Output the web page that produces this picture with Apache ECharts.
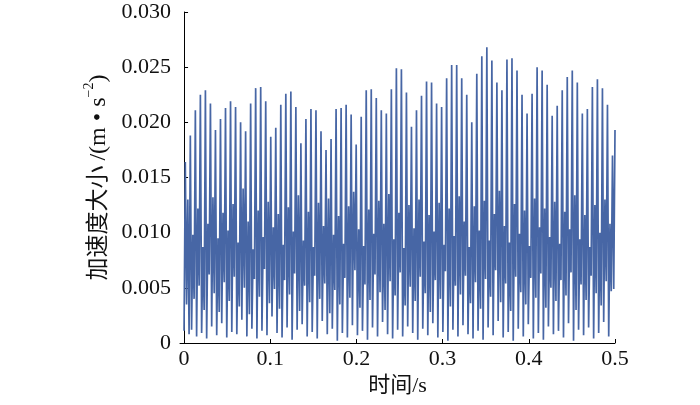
<!DOCTYPE html>
<html>
<head>
<meta charset="utf-8">
<script src="https://cdn.jsdelivr.net/npm/echarts@6/dist/echarts.min.js"></script>
<style>html,body{margin:0;padding:0;background:#fff}#c{width:700px;height:405px}</style>
</head>
<body>
<div id="c"></div>
<script>
// time axis: uniform sampling from 0 to 0.5 s
const tStart = 0;
const tEnd = 0.5;
// acceleration magnitude samples (m·s^-2), 4 samples per oscillation cycle
const accel = [
  0.0011, 0.0164, 0.0035, 0.0130,
  0.0008, 0.0188, 0.0012, 0.0098,
  0.0040, 0.0211, 0.0006, 0.0122,
  0.0052, 0.0225, 0.0009, 0.0087,
  0.0030, 0.0229, 0.0004, 0.0108,
  0.0062, 0.0217, 0.0015, 0.0132,
  0.0045, 0.0193, 0.0007, 0.0095,
  0.0028, 0.0203, 0.0018, 0.0118,
  0.0055, 0.0213, 0.0005, 0.0102,
  0.0038, 0.0219, 0.0010, 0.0126,
  0.0060, 0.0214, 0.0008, 0.0091,
  0.0033, 0.0200, 0.0021, 0.0140,
  0.0050, 0.0192, 0.0006, 0.0110,
  0.0026, 0.0217, 0.0013, 0.0085,
  0.0058, 0.0231, 0.0004, 0.0120,
  0.0042, 0.0232, 0.0011, 0.0096,
  0.0067, 0.0219, 0.0007, 0.0128,
  0.0036, 0.0187, 0.0024, 0.0105,
  0.0049, 0.0195, 0.0009, 0.0117,
  0.0031, 0.0216, 0.0005, 0.0089,
  0.0057, 0.0226, 0.0014, 0.0123,
  0.0044, 0.0228, 0.0003, 0.0101,
  0.0063, 0.0214, 0.0012, 0.0134,
  0.0029, 0.0181, 0.0017, 0.0093,
  0.0052, 0.0203, 0.0006, 0.0119,
  0.0037, 0.0212, 0.0010, 0.0087,
  0.0061, 0.0211, 0.0004, 0.0127,
  0.0040, 0.0192, 0.0020, 0.0106,
  0.0054, 0.0175, 0.0008, 0.0131,
  0.0027, 0.0185, 0.0013, 0.0098,
  0.0048, 0.0212, 0.0002, 0.0115,
  0.0035, 0.0213, 0.0009, 0.0090,
  0.0059, 0.0216, 0.0005, 0.0124,
  0.0041, 0.0207, 0.0016, 0.0137,
  0.0066, 0.0180, 0.0007, 0.0103,
  0.0032, 0.0205, 0.0011, 0.0088,
  0.0053, 0.0229, 0.0003, 0.0121,
  0.0039, 0.0230, 0.0014, 0.0099,
  0.0062, 0.0222, 0.0006, 0.0129,
  0.0046, 0.0211, 0.0019, 0.0108,
  0.0030, 0.0208, 0.0008, 0.0135,
  0.0056, 0.0230, 0.0004, 0.0094,
  0.0043, 0.0249, 0.0012, 0.0118,
  0.0064, 0.0248, 0.0006, 0.0086,
  0.0034, 0.0227, 0.0015, 0.0125,
  0.0051, 0.0196, 0.0009, 0.0104,
  0.0038, 0.0211, 0.0003, 0.0130,
  0.0060, 0.0224, 0.0013, 0.0092,
  0.0045, 0.0237, 0.0007, 0.0116,
  0.0028, 0.0236, 0.0018, 0.0101,
  0.0057, 0.0217, 0.0005, 0.0127,
  0.0040, 0.0214, 0.0010, 0.0089,
  0.0065, 0.0240, 0.0002, 0.0122,
  0.0033, 0.0252, 0.0012, 0.0097,
  0.0052, 0.0252, 0.0006, 0.0133,
  0.0044, 0.0240, 0.0016, 0.0110,
  0.0061, 0.0225, 0.0008, 0.0087,
  0.0036, 0.0200, 0.0004, 0.0124,
  0.0055, 0.0244, 0.0011, 0.0102,
  0.0031, 0.0260, 0.0003, 0.0129,
  0.0058, 0.0268, 0.0014, 0.0093,
  0.0042, 0.0256, 0.0007, 0.0117,
  0.0066, 0.0236, 0.0020, 0.0138,
  0.0037, 0.0229, 0.0005, 0.0106,
  0.0054, 0.0257, 0.0010, 0.0091,
  0.0029, 0.0258, 0.0002, 0.0126,
  0.0060, 0.0247, 0.0013, 0.0099,
  0.0046, 0.0225, 0.0006, 0.0120,
  0.0035, 0.0208, 0.0017, 0.0088,
  0.0059, 0.0226, 0.0004, 0.0131,
  0.0041, 0.0250, 0.0009, 0.0105,
  0.0063, 0.0247, 0.0003, 0.0122,
  0.0032, 0.0234, 0.0015, 0.0096,
  0.0050, 0.0206, 0.0008, 0.0128,
  0.0038, 0.0215, 0.0011, 0.0090,
  0.0057, 0.0229, 0.0005, 0.0119,
  0.0043, 0.0241, 0.0018, 0.0103,
  0.0064, 0.0247, 0.0002, 0.0134,
  0.0030, 0.0236, 0.0012, 0.0094,
  0.0053, 0.0208, 0.0007, 0.0116,
  0.0039, 0.0212, 0.0014, 0.0087,
  0.0061, 0.0232, 0.0004, 0.0125,
  0.0045, 0.0239, 0.0009, 0.0100,
  0.0034, 0.0231, 0.0019, 0.0130,
  0.0056, 0.0216, 0.0006, 0.0108,
  0.0047, 0.0170, 0.0049, 0.0193
];
const xTicks = [0, 0.1, 0.2, 0.3, 0.4, 0.5];
const yTickStep = 0.005;

const step = (tEnd - tStart) / (accel.length - 1);
const seriesData = accel.map((v, i) => [tStart + i * step, v]);

const serif = '"Liberation Serif", "Times New Roman", serif';
const cjk = '"Liberation Serif", "Noto Sans CJK SC", serif';

const chart = echarts.init(document.getElementById('c'), null, {renderer: 'canvas'});
chart.setOption({
  animation: false,
  backgroundColor: '#fff',
  grid: {left: 180, right: 85, top: 12, bottom: 62, containLabel: false},
  xAxis: {
    type: 'value',
    min: -0.0047,
    max: 0.5,
    name: '时间/s',
    nameLocation: 'middle',
    nameGap: 29,
    nameTextStyle: {fontFamily: cjk, fontSize: 22, color: '#111'},
    axisLine: {show: true, onZero: false, lineStyle: {color: '#000', width: 1}},
    axisTick: {show: true, inside: true, length: 4, customValues: xTicks, lineStyle: {color: '#000'}},
    axisLabel: {customValues: xTicks, margin: 5, fontFamily: serif, fontSize: 22, color: '#111',
      formatter: v => v === 0 ? '0' : String(v)},
    splitLine: {show: false}
  },
  yAxis: {
    type: 'value',
    min: 0,
    max: 0.03,
    interval: yTickStep,
    name: '{a|加速度大小}{b|\u2009/(m • s}{sup|−2}{b|)}',
    nameLocation: 'middle',
    nameRotate: 90,
    nameGap: 69,
    nameTextStyle: {
      rich: {
        a: {fontFamily: cjk, fontSize: 23, color: '#111', lineHeight: 28, verticalAlign: 'bottom'},
        b: {fontFamily: serif, fontSize: 24, color: '#111', lineHeight: 28, verticalAlign: 'bottom'},
        sup: {fontFamily: serif, fontSize: 14, color: '#111', lineHeight: 28, verticalAlign: 'top'}
      }
    },
    axisLine: {show: true, lineStyle: {color: '#000', width: 1}},
    axisTick: {show: true, inside: true, length: 4, lineStyle: {color: '#000'}},
    axisLabel: {margin: 9, fontFamily: serif, fontSize: 22, color: '#111',
      formatter: v => v === 0 ? '0' : v.toFixed(3)},
    splitLine: {show: false}
  },
  series: [{
    type: 'line',
    data: seriesData,
    showSymbol: false,
    symbol: 'none',
    sampling: null,
    lineStyle: {color: '#4766a5', width: 1.7},
    clip: true
  }]
});
</script>
</body>
</html>
